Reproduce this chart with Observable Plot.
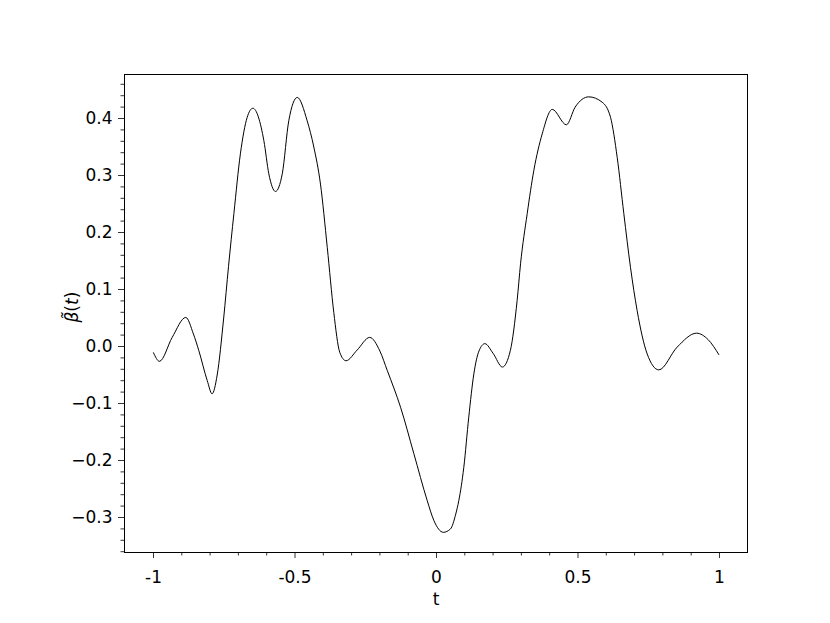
<!DOCTYPE html>
<html>
<head>
<meta charset="utf-8">
<script src="https://cdn.jsdelivr.net/npm/d3@7"></script>
<script src="https://cdn.jsdelivr.net/npm/@observablehq/plot@0.6"></script>
<style>
  html, body { margin: 0; padding: 0; background: #fff; }
  svg { font-family: "DejaVu Sans", sans-serif; }
</style>
</head>
<body>
<div id="chart"></div>
<script>
const tValues = [-1.0, -0.979, -0.934, -0.886, -0.859, -0.84, -0.81, -0.793, -0.775, -0.752, -0.735, -0.716, -0.693, -0.669, -0.649, -0.61, -0.5925, -0.569, -0.545, -0.522, -0.492, -0.457, -0.4335, -0.41, -0.386, -0.363, -0.342, -0.32, -0.28, -0.236, -0.2, -0.174, -0.127, -0.080, -0.033, -0.0095, 0.024, 0.0495, 0.068, 0.079, 0.0965, 0.114, 0.132, 0.150, 0.171, 0.20, 0.233, 0.261, 0.285, 0.297, 0.3205, 0.344, 0.3735, 0.409, 0.459, 0.49, 0.538, 0.5855, 0.615, 0.6385, 0.662, 0.6855, 0.709, 0.7445, 0.7855, 0.8505, 0.919, 0.96, 0.9975];
const betaValues = [-0.011, -0.026, 0.016, 0.051, 0.022, -0.007, -0.06, -0.083, -0.05, 0.05, 0.14, 0.233, 0.338, 0.402, 0.418, 0.361, 0.303, 0.272, 0.303, 0.396, 0.437, 0.396, 0.350, 0.285, 0.174, 0.06, -0.01, -0.025, -0.006, 0.016, -0.008, -0.042, -0.1065, -0.188, -0.270, -0.305, -0.326, -0.32, -0.294, -0.27, -0.212, -0.124, -0.048, -0.008, 0.005, -0.012, -0.036, -0.007, 0.081, 0.145, 0.233, 0.309, 0.373, 0.416, 0.389, 0.420, 0.438, 0.4286, 0.402, 0.332, 0.233, 0.139, 0.063, -0.013, -0.041, -0.001, 0.0234, 0.012, -0.014];

const xTicks = [-1, -0.5, 0, 0.5, 1];
const xTickLabels = ["-1", "-0.5", "0", "0.5", "1"];
const yTicks = [-0.3, -0.2, -0.1, 0.0, 0.1, 0.2, 0.3, 0.4];
const yTickLabels = ["\u22120.3", "\u22120.2", "\u22120.1", "0.0", "0.1", "0.2", "0.3", "0.4"];
const xMinorTicks = [-0.9, -0.8, -0.7, -0.6, -0.4, -0.3, -0.2, -0.1, 0.1, 0.2, 0.3, 0.4, 0.6, 0.7, 0.8, 0.9];
const yMinorTicks = [-0.36, -0.34, -0.32, -0.28, -0.26, -0.24, -0.22, -0.18, -0.16, -0.14, -0.12, -0.08, -0.06, -0.04, -0.02, 0.02, 0.04, 0.06, 0.08, 0.12, 0.14, 0.16, 0.18, 0.22, 0.24, 0.26, 0.28, 0.32, 0.34, 0.36, 0.38, 0.42, 0.44, 0.46];
const xLabel = "t";
const yLabel = "\u03B2\u0303(t)";

const data = tValues.map((t, i) => ({t, beta: betaValues[i]}));

const chart = Plot.plot({
  width: 830,
  height: 623,
  marginLeft: 124,
  marginRight: 83,
  marginTop: 74,
  marginBottom: 71,
  style: {fontFamily: "DejaVu Sans, sans-serif", fontSize: "17px", color: "black", background: "white"},
  x: {domain: [-1.1025, 1.099]},
  y: {domain: [-0.3614, 0.4772]},
  marks: [
    Plot.axisX(xMinorTicks, {tickSize: 3.5, tickFormat: () => "", label: null, strokeWidth: 0.8}),
    Plot.axisY(yMinorTicks, {tickSize: 3.5, tickFormat: () => "", label: null, strokeWidth: 0.8}),
    Plot.axisX(xTicks, {tickSize: 6, tickPadding: 12, tickFormat: (d) => xTickLabels[xTicks.indexOf(d)], label: null, fontSize: 17, strokeWidth: 0.8}),
    Plot.axisY(yTicks, {tickSize: 6, tickPadding: 6, tickFormat: (d) => yTickLabels[yTicks.indexOf(d)], label: null, fontSize: 17, strokeWidth: 0.8}),
    Plot.frame({stroke: "black", strokeWidth: 1}),
    Plot.line(data, {x: "t", y: "beta", curve: "monotone-x", stroke: "black", strokeWidth: 1}),
    Plot.text([xLabel], {frameAnchor: "bottom", dy: 52, fontSize: 17, fill: "black"}),
    Plot.text([yLabel], {frameAnchor: "left", dx: -52, dy: 9, rotate: -90, fontSize: 17, fill: "black", className: "ylabel"})
  ]
});
document.getElementById("chart").appendChild(chart);

// Style the y label like math text: italic beta and t, upright parentheses
const yl = chart.querySelector(".ylabel text");
if (yl) {
  yl.textContent = "";
  const parts = [["\u03B2\u0303", "italic"], ["(", "normal"], ["t", "italic"], [")", "normal"]];
  for (const [s, st] of parts) {
    const ts = document.createElementNS("http://www.w3.org/2000/svg", "tspan");
    ts.setAttribute("font-style", st);
    ts.textContent = s;
    yl.appendChild(ts);
  }
}
</script>
</body>
</html>
